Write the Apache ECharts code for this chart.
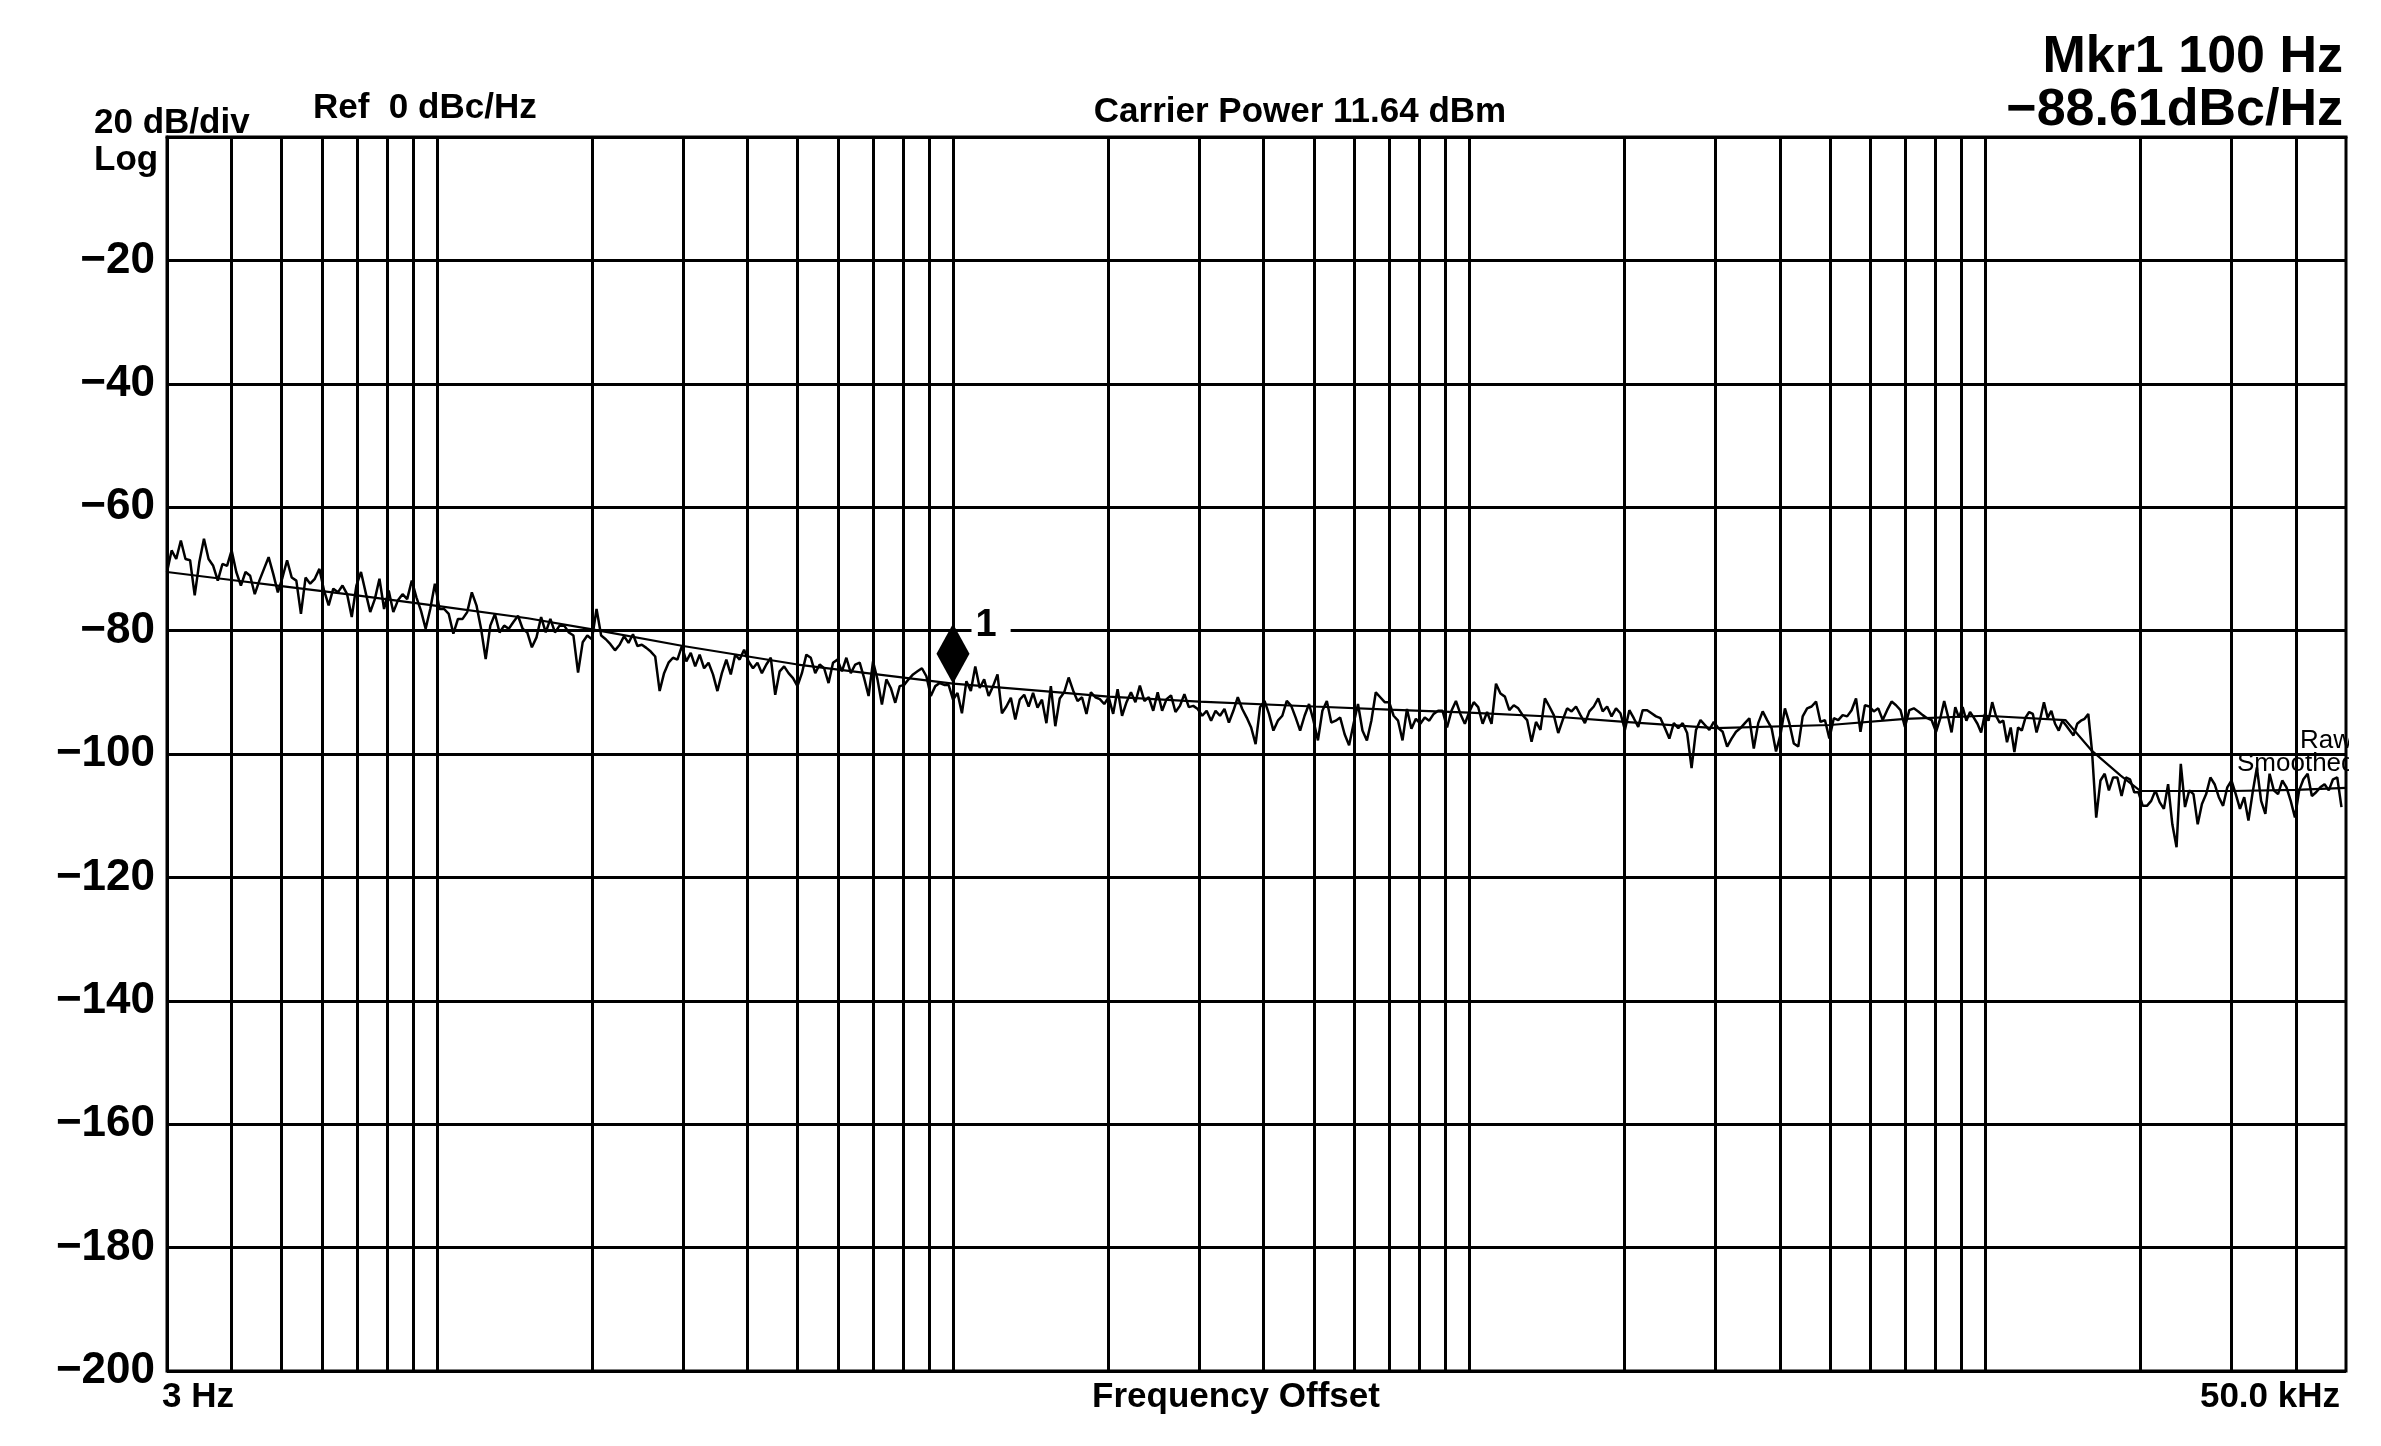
<!DOCTYPE html>
<html>
<head>
<meta charset="utf-8">
<title>Phase noise</title>
<script src="https://cdn.jsdelivr.net/npm/echarts@6/dist/echarts.min.js"></script>
<style>
  html, body { margin: 0; padding: 0; background: #fff; }
  #chart { width: 2381px; height: 1446px; }
</style>
</head>
<body>
<div id="chart"></div>
<script>
var FONT = '"Liberation Sans", Arial, sans-serif';

// sweep segments (Hz), raw trace per segment (dBc/Hz)
var segEdgesHz = [3, 22.6, 161, 1150, 8190, 16100, 49000];

var rawSegA = [-70.5,-67.0,-68.4,-65.4,-68.4,-68.6,-74.3,-68.9,-65.1,-68.4,-69.5,-71.9,-69.2,-69.5,-67.0,-70.5,-72.7,-70.5,-71.1,-74.1,-71.9,-70.0,-68.1,-70.8,-73.8,-71.4,-68.6,-71.4,-71.9,-77.3,-71.4,-72.4,-71.6,-70.0,-73.5,-75.9,-73.2,-73.8,-72.7,-74.1,-77.8,-72.7,-70.5,-73.8,-77.0,-74.9,-71.6,-76.5,-73.5,-77.0,-75.1,-74.1,-74.9,-71.9,-74.6,-76.8,-79.7,-76.5,-72.4,-76.5,-76.5,-77.3,-80.5,-78.1,-78.1,-77.0,-73.8,-75.9,-79.7,-84.6,-79.2,-77.3,-80.3,-79.2,-79.7,-78.6,-77.6,-79.7,-80.3,-82.7,-81.1,-77.8,-80.3,-78.1,-80.3,-79.2,-79.2,-80.3,-80.8,-86.8,-81.9,-80.8,-81.4,-76.5,-80.8,-81.4,-82.2,-83.2];

var rawSegB = [-82.3,-80.9,-82.0,-80.6,-82.5,-82.3,-82.8,-83.4,-84.2,-89.8,-86.9,-85.2,-84.4,-84.7,-82.5,-85.0,-83.6,-85.8,-83.9,-86.1,-85.2,-87.1,-89.8,-86.9,-84.7,-87.1,-83.9,-84.7,-83.1,-85.0,-86.1,-85.2,-86.9,-85.5,-84.4,-90.4,-86.6,-85.8,-86.9,-87.7,-89.0,-86.9,-83.9,-84.4,-86.9,-85.5,-86.1,-88.5,-85.2,-84.7,-86.6,-84.4,-86.9,-85.5,-85.2,-87.7,-90.6,-85.0,-87.9,-92.0,-87.9,-89.3,-91.7,-89.0,-88.8,-87.9,-87.1,-86.6,-86.1,-87.4,-90.6,-89.0,-88.5,-88.8,-88.8,-91.2,-90.1,-93.4,-88.2,-89.8,-85.8,-89.3,-87.9,-90.6,-89.0,-87.1,-93.4,-92.3,-90.9,-94.4,-91.2,-90.4,-92.3,-90.1,-92.5,-91.2,-95.0,-89.0,-95.5];

var rawSegC = [-91.0,-90.0,-87.6,-89.7,-91.4,-90.8,-93.5,-90.0,-90.8,-91.1,-91.9,-90.8,-93.5,-89.5,-93.8,-91.6,-90.0,-91.6,-88.9,-91.4,-90.8,-93.0,-90.0,-93.0,-91.1,-90.5,-93.2,-92.2,-90.3,-92.4,-92.2,-92.7,-93.8,-93.0,-94.6,-93.0,-93.8,-92.7,-94.9,-93.0,-90.8,-92.7,-94.1,-95.7,-98.4,-92.4,-91.4,-93.5,-96.2,-94.6,-93.8,-91.4,-92.2,-94.1,-96.2,-93.8,-91.9,-94.6,-97.8,-93.0,-91.4,-94.9,-94.6,-94.1,-96.8,-98.6,-95.1,-91.9,-96.2,-97.8,-94.6,-90.0,-90.8,-91.6,-91.6,-93.8,-94.6,-97.8,-92.7,-95.9,-94.3,-95.1,-94.1,-94.6,-93.5,-93.0,-93.0,-95.7,-93.0,-91.4,-93.5,-95.1,-93.2,-91.6,-92.4,-95.1,-93.2,-95.1,-88.6];

var rawSegD = [-90.2,-90.7,-92.9,-92.1,-92.6,-93.7,-94.5,-98.0,-94.8,-96.1,-91.0,-92.3,-93.7,-96.6,-94.5,-92.6,-93.1,-92.3,-93.7,-95.0,-93.1,-92.3,-91.0,-93.1,-92.3,-93.9,-92.6,-93.4,-96.1,-92.9,-94.2,-95.6,-92.9,-92.9,-93.4,-93.9,-94.2,-95.8,-97.5,-95.0,-95.8,-95.0,-96.6,-102.3,-96.1,-94.5,-95.3,-96.1,-94.8,-95.8,-96.4,-98.8,-97.5,-96.4,-95.8,-95.0,-94.2,-99.1,-95.0,-93.1,-94.5,-95.8,-99.6,-96.9,-92.6,-95.0,-98.3,-98.8,-93.9,-92.6,-92.3,-91.5,-94.8,-94.5,-97.5,-94.2,-94.5,-93.7,-93.9,-92.9,-91.0,-96.4,-92.1,-92.3,-93.1,-92.6,-94.5,-92.9,-91.5,-92.1,-92.9,-95.6,-92.9,-92.6,-93.1,-93.7,-94.2,-94.5,-96.4];

// 8.2 kHz up to the step near 16 kHz
var rawSegE = [-94.1,-91.4,-93.8,-96.5,-92.4,-94.1,-92.4,-94.6,-93.2,-94.1,-95.1,-96.5,-93.5,-94.6,-91.6,-93.8,-94.9,-94.6,-98.1,-95.7,-99.7,-95.7,-96.2,-94.1,-93.2,-93.5,-96.5,-94.3,-91.6,-94.1,-93.0,-95.1,-96.2,-94.6,-95.4,-96.2,-97.0,-95.1,-94.6,-94.3,-93.5];

// step to the end of the sweep
var rawSegF = [-99.5,-110.3,-104.3,-103.2,-105.9,-103.8,-103.8,-106.8,-103.8,-104.1,-106.2,-106.2,-108.4,-108.4,-107.6,-105.9,-107.8,-108.9,-104.9,-111.4,-115.1,-101.6,-108.6,-105.9,-106.5,-111.4,-108.1,-106.5,-103.8,-104.9,-107.0,-108.4,-105.4,-104.3,-106.5,-108.9,-107.0,-110.8,-106.2,-102.2,-107.6,-109.7,-103.2,-105.9,-106.5,-104.3,-105.4,-107.6,-110.3,-105.9,-104.1,-103.2,-106.8,-106.2,-105.4,-104.9,-105.9,-104.1,-103.8,-108.6];

// smoothed trace
var smoothHz = [3, 4, 5, 7, 10, 15, 20, 30, 50, 70, 100, 150, 200, 300, 500, 700, 1000, 1500, 2000, 3000, 5000, 7000, 10000, 14300, 16100, 18300, 20000, 30000, 40000, 50000];
var smoothDb = [-70.5, -71.8, -72.8, -74.3, -76, -78, -79.8, -82.5, -85.5, -87, -88.6, -89.8, -90.7, -91.5, -92.3, -92.8, -93.3, -94, -94.8, -95.8, -95.3, -94.3, -93.8, -94.5, -99.5, -103.5, -106, -106, -105.8, -105.5];

// vertical grid divisions (Hz)
var gridHz = [4,5,6,7,8,9,10,20,30,40,50,60,70,80,90,100,200,300,400,500,600,700,800,900,1000,2000,3000,4000,5000,6000,7000,8000,9000,10000,20000,30000,40000];

var markerHz = 100;
var markerDb = -88.61;

var xStartLabel = '3 Hz';
var xStopLabel = '50.0 kHz';

function segPoints(vals, f0, f1, last) {
  var d = last ? vals.length - 1 : vals.length;
  return vals.map(function (v, j) { return [f0 * Math.pow(f1 / f0, j / d), v]; });
}

var segs = [rawSegA, rawSegB, rawSegC, rawSegD, rawSegE, rawSegF];
var rawData = [];
segs.forEach(function (s, i) {
  rawData = rawData.concat(segPoints(s, segEdgesHz[i], segEdgesHz[i + 1], i === segs.length - 1));
});
var smoothData = smoothHz.map(function (f, i) { return [f, smoothDb[i]]; });

function txt(x, y, text, size, align, weight) {
  return {
    type: 'text', x: x, y: y, z: 50,
    style: {
      text: text, fill: '#000', align: align || 'left', verticalAlign: 'middle',
      font: (weight || 'bold') + ' ' + size + 'px ' + FONT
    }
  };
}

var myChart = echarts.init(document.getElementById('chart'));
myChart.setOption({
  backgroundColor: '#fff',
  animation: false,
  grid: {
    left: 167, right: 35, top: 137, bottom: 75,
    show: true, borderColor: '#000', borderWidth: 3, backgroundColor: '#fff'
  },
  xAxis: {
    type: 'log', logBase: 10, min: 3, max: 50000,
    axisLine: { show: true, lineStyle: { color: '#000', width: 3 } },
    axisTick: { show: false },
    axisLabel: { show: false },
    splitLine: { show: false },
    minorTick: { show: false },
    minorSplitLine: { show: false }
  },
  yAxis: {
    type: 'value', min: -200, max: 0, interval: 20,
    axisLine: { show: true, lineStyle: { color: '#000', width: 3 } },
    axisTick: { show: false },
    axisLabel: {
      color: '#000', fontSize: 44, fontWeight: 'bold', fontFamily: FONT, margin: 12,
      formatter: function (v) { return v === 0 ? '' : String(v).replace('-', '\u2212'); }
    },
    splitLine: { show: true, lineStyle: { color: '#000', width: 3 } }
  },
  series: [
    {
      type: 'line', z: 1, silent: true, showSymbol: false,
      data: [[3, 0]], lineStyle: { width: 0 },
      markLine: {
        silent: true, symbol: 'none', label: { show: false },
        lineStyle: { color: '#000', width: 3, type: 'solid' },
        data: gridHz.map(function (f) { return { xAxis: f }; })
      }
    },
    {
      name: 'Smoothed', type: 'line', z: 3, showSymbol: false, silent: true,
      data: smoothData, lineStyle: { color: '#000', width: 2.2 }
    },
    {
      name: 'Raw', type: 'line', z: 4, showSymbol: false, silent: true,
      data: rawData, lineStyle: { color: '#000', width: 2.5 }
    },
    {
      name: 'Mkr1', type: 'scatter', z: 6, silent: true,
      data: [[markerHz, markerDb]],
      symbol: 'diamond', symbolSize: [33, 60], symbolOffset: [0, '-50%'],
      itemStyle: { color: '#000', opacity: 1 },
      label: {
        show: true, formatter: '1', position: 'right', distance: 2, offset: [0, -28],
        color: '#000', fontSize: 38, fontWeight: 'bold', fontFamily: FONT,
        backgroundColor: '#fff', padding: [0, 14, 0, 4]
      }
    }
  ],
  graphic: [
    txt(94, 123, '20 dB/div', 35),
    txt(94, 160, 'Log', 35),
    txt(313, 108, 'Ref  0 dBc/Hz', 35),
    txt(1300, 112, 'Carrier Power 11.64 dBm', 35, 'center'),
    txt(2343, 58, 'Mkr1 100 Hz', 52, 'right'),
    txt(2343, 111, '\u221288.61dBc/Hz', 52, 'right'),
    txt(162, 1397, xStartLabel, 35),
    txt(1236, 1397, 'Frequency Offset', 35, 'center'),
    txt(2340, 1397, xStopLabel, 35, 'right'),
    txt(2300, 741, 'Raw', 26, 'left', 'normal'),
    txt(2237, 764, 'Smoothed', 26, 'left', 'normal'),
    { type: 'rect', z: 100, shape: { x: 2349, y: 720, width: 40, height: 70 }, style: { fill: '#fff' } }
  ]
});
</script>
</body>
</html>
